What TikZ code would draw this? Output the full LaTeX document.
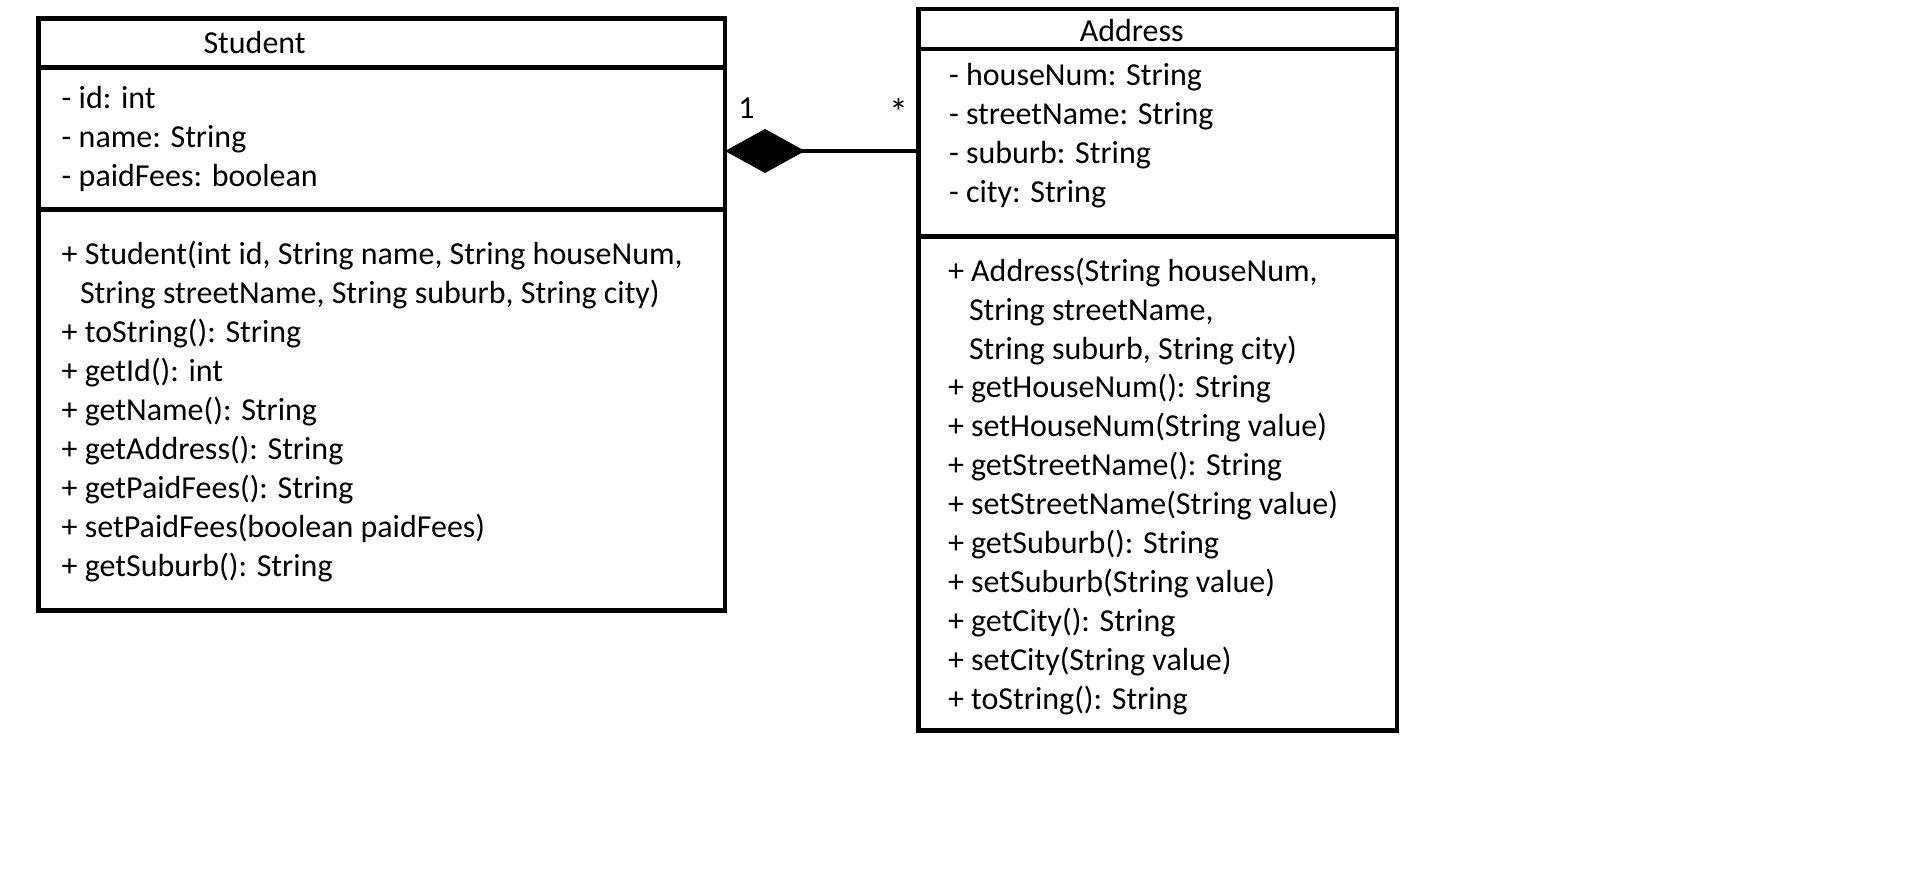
\documentclass[tikz,border=0pt]{standalone}
\usepackage{fontspec}
\setmainfont{Carlito}
\usetikzlibrary{arrows.meta}
\tikzset{
  umlbox/.style={draw, line width=4.7pt, inner sep=0pt, outer sep=0pt, anchor=north west},
  divider/.style={line width=4.7pt},
  txt/.style={anchor=base west, inner sep=0pt, outer sep=0pt, yshift=-3pt, font=\fontsize{32}{39}\selectfont},
  ttl/.style={anchor=base, inner sep=0pt, outer sep=0pt, yshift=-3pt, font=\fontsize{32}{39}\selectfont},
  comp/.style={line width=4.7pt, {Diamond[length=80pt,width=44pt]}-}
}
\begin{document}
\begin{tikzpicture}[x=1pt,y=-1pt]
\useasboundingbox (0,0) rectangle (1911,869);
% Student class
\node[umlbox, minimum width=686.7pt, minimum height=592.2pt] (student) at (38.3,18.3) {};
\draw[divider] (student.west |- 0,67.5) -- (student.east |- 0,67.5);
\draw[divider] (student.west |- 0,209.6) -- (student.east |- 0,209.6);
\node[ttl] (stitle) at (254.6,50.7) {Student};
\node[txt] (sa1) at (61.7,106) {- id: int};
\node[txt] (sa2) at (61.7,145) {- name: String};
\node[txt] (sa3) at (61.7,184) {- paidFees: boolean};
\node[txt] (sm1) at (61.7,261) {+ Student(int id, String name, String houseNum,};
\node[txt] (sm1b) at (80,300) {String streetName, String suburb, String city)};
\node[txt] (sm2) at (61.7,339) {+ toString(): String};
\node[txt] (sm3) at (61.7,378) {+ getId(): int};
\node[txt] (sm4) at (61.7,417) {+ getName(): String};
\node[txt] (sm5) at (61.7,456) {+ getAddress(): String};
\node[txt] (sm6) at (61.7,495) {+ getPaidFees(): String};
\node[txt] (sm7) at (61.7,534) {+ setPaidFees(boolean paidFees)};
\node[txt] (sm8) at (61.7,573) {+ getSuburb(): String};
% Address class
\node[umlbox, minimum width=478.7pt, minimum height=721.5pt] (address) at (918.3,9) {};
\draw[divider] (address.west |- 0,49) -- (address.east |- 0,49);
\draw[divider] (address.west |- 0,236.5) -- (address.east |- 0,236.5);
\node[ttl] (atitle) at (1131.7,38.3) {Address};
\node[txt] (aa1) at (949,83) {- houseNum: String};
\node[txt] (aa2) at (949,122) {- streetName: String};
\node[txt] (aa3) at (949,161) {- suburb: String};
\node[txt] (aa4) at (949,200) {- city: String};
\node[txt] (am1) at (948,278) {+ Address(String houseNum,};
\node[txt] (am1b) at (969,317) {String streetName,};
\node[txt] (am1c) at (969,356) {String suburb, String city)};
\node[txt] (am2) at (948,394.5) {+ getHouseNum(): String};
\node[txt] (am3) at (948,433.5) {+ setHouseNum(String value)};
\node[txt] (am4) at (948,472.5) {+ getStreetName(): String};
\node[txt] (am5) at (948,511.5) {+ setStreetName(String value)};
\node[txt] (am6) at (948,550.5) {+ getSuburb(): String};
\node[txt] (am7) at (948,589.5) {+ setSuburb(String value)};
\node[txt] (am8) at (948,628.5) {+ getCity(): String};
\node[txt] (am9) at (948,667.5) {+ setCity(String value)};
\node[txt] (am10) at (948,706.5) {+ toString(): String};
% Composition
\coordinate (lvl) at (0,151);
\draw[comp] (student.east |- lvl) -- (address.west |- lvl);
\node[ttl] (m1) at (746.5,116) {1};
\node[ttl, font=\fontsize{38}{39}\selectfont] (m2) at (898.5,123) {*};
\end{tikzpicture}
\end{document}
